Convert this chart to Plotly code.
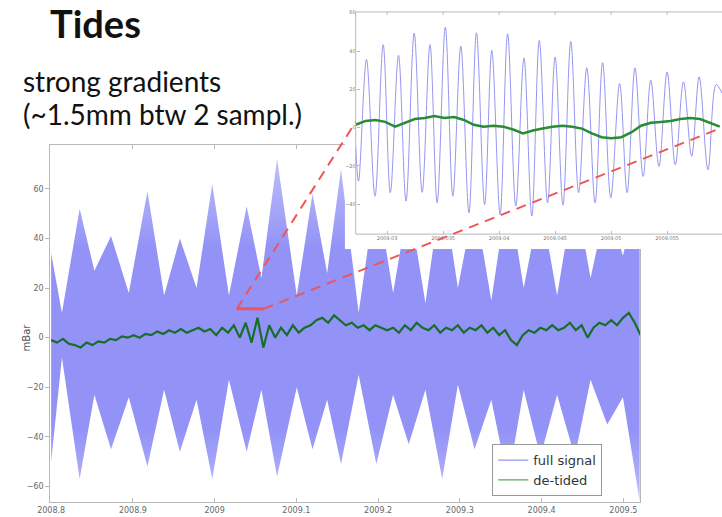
import numpy as np
import plotly.graph_objects as go

# ---- full pressure signal: envelope of the semi-diurnal oscillation (mBar)
env_t = [2008.800, 2008.8132, 2008.8349, 2008.8529, 2008.8733, 2008.8950, 2008.9178,
         2008.9382, 2008.9575, 2008.9779, 2008.9971, 2009.0175, 2009.0392, 2009.0572,
         2009.0764, 2009.1005, 2009.1197, 2009.1377, 2009.1546, 2009.1762, 2009.1978,
         2009.2183, 2009.2375, 2009.2579, 2009.2784, 2009.2976, 2009.3180, 2009.3385,
         2009.3589, 2009.3781, 2009.3986, 2009.4190, 2009.4406, 2009.4599, 2009.4803,
         2009.4995, 2009.5200]
env_hi = [34, 10, 52, 27, 41, 18, 59, 17, 40, 20, 62, 17, 53, 24, 72, 17, 58, 26, 68,
          10, 60, 18, 55, 14, 62, 20, 55, 15, 60, 20, 55, 17, 60, 24, 55, 33, 60]
env_lo = [-50, -8, -57, -23, -45, -24, -52, -21, -46, -25, -57, -17, -46, -21, -56, -20,
          -45, -25, -51, -15, -51, -23, -43, -21, -57, -19, -45, -25, -58, -21, -48, -23,
          -48, -17, -35, -24, -66]

# ---- de-tided signal, evenly sampled over the record (mBar)
detided = [-1, -2, -0.5, -2.5, -3, -4, -2, -3, -1.5, -2, -0.5, -1, 0.5, 0, 1, 0, 1.5, 1,
           2.5, 1.5, 3, 2, 3.5, 2, 3, 4, 2.5, 3.5, 1, 4, 2, 5, 0, 6, -2, 8, -4, 5, 0, 4,
           1, 5, 2, 4, 5, 7, 8, 6, 9, 7, 5, 6, 4, 5, 3, 5, 4, 3, 4, 2, 5, 3, 6, 4, 3, 5,
           2, 4, 3, 5, 2, 4, 3, 5, 2, 4, 1, 3, -1, -3, 1, 3, 2, 4, 3, 5, 3, 4, 6, 3, 5, 0,
           4, 6, 5, 7, 5, 8, 10, 6, 1]
detided_t = np.linspace(2008.8, 2009.5212, len(detided))

# ---- zoomed window: successive high / low waters of the full signal (mBar)
zoom_t = [2009.0272, 2009.02745, 2009.02816, 2009.02892, 2009.02965, 2009.03029,
          2009.03102, 2009.03169, 2009.03242, 2009.03313, 2009.03383, 2009.03447,
          2009.03520, 2009.03587, 2009.03658, 2009.03731, 2009.03798, 2009.03871,
          2009.03935, 2009.04009, 2009.04076, 2009.04149, 2009.04222, 2009.04292,
          2009.04359, 2009.04433, 2009.04500, 2009.04570, 2009.04640, 2009.04710,
          2009.04783, 2009.04857, 2009.04924, 2009.04997, 2009.05076, 2009.05143,
          2009.05213, 2009.05286, 2009.05354, 2009.05427, 2009.05500, 2009.05573,
          2009.05646, 2009.05719, 2009.05786, 2009.05865, 2009.05938, 2009.0599]
zoom_full = [-10, -28, 35.6, -35.8, 43.3, -34, 37.8, -38.4, 49.4, -33.8, 43.3, -39.3,
             52.5, -35.8, 42.6, -44.5, 49.5, -40.2, 40.3, -45.4, 49, -41, 36.4, -46.2,
             45.5, -39.3, 36.9, -40.5, 45, -34, 31.2, -39.3, 33.9, -36.7, 23, -34, 31.2,
             -25.5, 24.8, -20.3, 29, -19.4, 23.9, -15, 26.5, -22, 22.5, 18]
zoom_detided = [1.5, 3.5, 4, 3, 0.5, 2.5, 4.5, 5, 6, 5, 5.5, 4, 1.5, 0.5, 1, 0.5, -1, -3,
                -1.5, -0.5, 0.5, 1, 0.5, -0.5, -3, -5, -5.5, -5, -2.5, 1, 2.5, 3, 3.5,
                4.5, 5, 4.5, 2.5, 0.5]
zoom_detided_t = np.linspace(2009.0272, 2009.0597, len(zoom_detided))

main_xticks = [2008.8, 2008.9, 2009.0, 2009.1, 2009.2, 2009.3, 2009.4, 2009.5]
main_xlabels = ["2008.8", "2008.9", "2009", "2009.1", "2009.2", "2009.3", "2009.4", "2009.5"]
main_yticks = [-60, -40, -20, 0, 20, 40, 60]
zoom_xticks = [2009.03, 2009.035, 2009.04, 2009.045, 2009.05, 2009.055]
zoom_xlabels = ["2009.03", "2009.035", "2009.04", "2009.045", "2009.05", "2009.055"]
zoom_yticks = [-40, -20, 0, 20, 40, 60]
marker_level = 11.6  # level of the red window marker on the main panel

W, H = 722, 517
BLUE_FILL = "rgb(146,146,247)"
BLUE_PALE = "rgb(196,196,251)"
BLUE_LINE = "rgb(150,150,240)"
GREEN = "rgb(22,110,42)"
RED = "rgb(238,85,85)"
AX = "#b8b8b8"
TICKF = dict(family="DejaVu Sans", size=8, color="#666")
SMALLF = dict(family="DejaVu Sans", size=5, color="#777")

# main panel frame (pixels) and data ranges
main_dom_x = [38 / W, 639 / W]
main_dom_y = [1 - 502 / H, 1 - 144 / H]
main_rx = [2008.799, 2009.521]
main_ry = [-66.3, 77.5]

# zoom panel: axes frame in pixels, plus a white margin for its tick labels
zf_left, zf_right, zf_top, zf_bottom = 349, 722, 10, 233
card_left, card_bottom = 338, 248
zoom_rx_frame = [zoom_t[0], zoom_t[-1]]
zoom_ry_frame = [-55.6, 60.4]
x_per_px = (zoom_rx_frame[1] - zoom_rx_frame[0]) / (zf_right - zf_left)
y_per_px = (zoom_ry_frame[1] - zoom_ry_frame[0]) / (zf_bottom - zf_top)
zoom_rx = [zoom_rx_frame[0] - (zf_left - card_left) * x_per_px, zoom_rx_frame[1]]
zoom_ry = [zoom_ry_frame[0] - (card_bottom - zf_bottom) * y_per_px, zoom_ry_frame[1]]
zoom_dom_x = [card_left / W, zf_right / W]
zoom_dom_y = [1 - card_bottom / H, 1 - zf_top / H]


def to_paper(v, rng, dom):
    return dom[0] + (v - rng[0]) / (rng[1] - rng[0]) * (dom[1] - dom[0])


def frac(v):
    return (v - main_ry[0]) / (main_ry[1] - main_ry[0])


# the densely sampled oscillation looks paler towards its extremes
band_scale = [[0.0, BLUE_PALE], [frac(-47), "rgb(160,160,248)"], [frac(-36), BLUE_FILL],
              [frac(36), BLUE_FILL], [frac(47), "rgb(160,160,248)"], [1.0, BLUE_PALE]]

fig = go.Figure()

# main panel: shaded full signal and de-tided series
fig.add_trace(go.Scatter(x=env_t, y=env_lo, mode="lines", line=dict(width=0, color=BLUE_FILL),
                         showlegend=False, hoverinfo="skip"))
fig.add_trace(go.Scatter(x=env_t, y=env_hi, mode="lines", line=dict(width=0, color=BLUE_FILL),
                         fill="tonexty", fillcolor=BLUE_FILL,
                         fillgradient=dict(type="vertical", colorscale=band_scale,
                                           start=main_ry[0], stop=main_ry[1]),
                         showlegend=False, hoverinfo="skip"))
fig.add_trace(go.Scatter(x=detided_t, y=detided, mode="lines", line=dict(width=2.2, color=GREEN),
                         showlegend=False))

# legend entries
fig.add_trace(go.Scatter(x=[None], y=[None], mode="lines", name="full signal",
                         line=dict(width=1.2, color=BLUE_LINE)))
fig.add_trace(go.Scatter(x=[None], y=[None], mode="lines", name="de-tided",
                         line=dict(width=1.2, color="rgb(90,170,90)")))

# zoomed view
fig.add_trace(go.Scatter(x=zoom_t, y=zoom_full, mode="lines", xaxis="x2", yaxis="y2",
                         line=dict(width=1, color=BLUE_LINE, shape="spline", smoothing=1.0),
                         showlegend=False))
fig.add_trace(go.Scatter(x=zoom_detided_t, y=zoom_detided, mode="lines", xaxis="x2", yaxis="y2",
                         line=dict(width=2.5, color="rgb(40,140,50)"), showlegend=False))

# window marker, connector lines and zoom frame
x0p = to_paper(zoom_rx_frame[0], main_rx, main_dom_x)
x1p = to_paper(zoom_rx_frame[1], main_rx, main_dom_x)
ymp = to_paper(marker_level, main_ry, main_dom_y)
zl_y = to_paper(3, zoom_ry, zoom_dom_y)
zr_y = to_paper(0, zoom_ry, zoom_dom_y)
fx0, fx1 = zf_left / W, zf_right / W
fy0, fy1 = 1 - zf_bottom / H, 1 - zf_top / H
frame = dict(color=AX, width=1)
shapes = [
    dict(type="line", xref="paper", yref="paper", x0=fx0, x1=fx0, y0=fy0, y1=fy1, line=frame),
    dict(type="line", xref="paper", yref="paper", x0=fx0, x1=fx1, y0=fy0, y1=fy0, line=frame),
    dict(type="line", xref="paper", yref="paper", x0=fx0, x1=fx1, y0=fy1, y1=fy1, line=frame),
    dict(type="line", xref="x", yref="y", x0=zoom_rx_frame[0], x1=zoom_rx_frame[1],
         y0=marker_level, y1=marker_level, line=dict(color=RED, width=3), layer="above"),
    dict(type="line", xref="paper", yref="paper", x0=x0p, y0=ymp, x1=fx0, y1=zl_y,
         line=dict(color=RED, width=2, dash="10px,7px"), layer="above"),
    dict(type="line", xref="paper", yref="paper", x0=x1p, y0=ymp, x1=fx1, y1=zr_y,
         line=dict(color=RED, width=2, dash="10px,7px"), layer="above"),
]
# short tick marks along the top edge of the zoom frame
for tv in zoom_xticks:
    px = to_paper(tv, zoom_rx, zoom_dom_x)
    shapes.append(dict(type="line", xref="paper", yref="paper", x0=px, x1=px, y0=fy1,
                       y1=fy1 - 3 / H, line=frame))

axis_common = dict(showgrid=False, zeroline=False, showline=True, linecolor=AX, linewidth=1,
                   tickcolor=AX, ticklen=4)

fig.update_layout(
    width=W, height=H, margin=dict(l=0, r=0, t=0, b=0),
    paper_bgcolor="white", plot_bgcolor="white",
    xaxis=dict(domain=main_dom_x, range=main_rx, anchor="y", tickvals=main_xticks,
               ticktext=main_xlabels, ticks="inside", mirror="ticks", tickfont=TICKF,
               **axis_common),
    yaxis=dict(domain=main_dom_y, range=main_ry, anchor="x", tickvals=main_yticks,
               ticks="outside", mirror=True, tickfont=TICKF, **axis_common),
    xaxis2=dict(domain=zoom_dom_x, range=zoom_rx, anchor="free", position=fy0,
                tickvals=zoom_xticks, ticktext=zoom_xlabels, ticks="inside", ticklen=3,
                tickcolor=AX, tickfont=SMALLF, showgrid=False, zeroline=False,
                showline=False),
    yaxis2=dict(domain=zoom_dom_y, range=zoom_ry, anchor="free", position=fx0,
                tickvals=zoom_yticks, ticks="inside", ticklen=3, tickcolor=AX,
                tickfont=SMALLF, showgrid=False, zeroline=False, showline=False),
    legend=dict(x=488 / W, y=1 - 496 / H, xanchor="left", yanchor="bottom",
                traceorder="normal", bgcolor="white", bordercolor="#999", borderwidth=1,
                font=dict(family="DejaVu Sans", size=13, color="#333"),
                itemwidth=30),
    shapes=shapes,
    annotations=[
        dict(text="<b>Tides</b>", x=36 / W, y=1 - 21 / H, xref="paper", yref="paper",
             xanchor="left", yanchor="middle", showarrow=False,
             font=dict(family="Lato", size=38, color="#111")),
        dict(text="strong gradients", x=8 / W, y=1 - 79 / H, xref="paper", yref="paper",
             xanchor="left", yanchor="middle", showarrow=False,
             font=dict(family="Lato", size=28, color="#111")),
        dict(text="(~1.5mm btw 2 sampl.)", x=8 / W, y=1 - 112 / H, xref="paper", yref="paper",
             xanchor="left", yanchor="middle", showarrow=False,
             font=dict(family="Lato", size=28, color="#111")),
        dict(text="mBar", x=14 / W, y=1 - 337 / H, xref="paper", yref="paper",
             xanchor="center", yanchor="middle", textangle=-90, showarrow=False,
             font=dict(family="DejaVu Sans", size=10, color="#555")),
    ],
)

fig.write_html("out.html")
